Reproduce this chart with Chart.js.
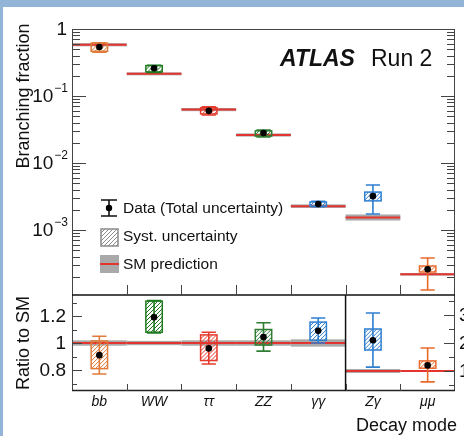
<!DOCTYPE html>
<html><head><meta charset="utf-8">
<script src="https://cdn.jsdelivr.net/npm/chart.js@4.4.1/dist/chart.umd.min.js"></script>
<style>
html,body{margin:0;padding:0;background:#92b4d6;overflow:hidden;width:464px;height:436px}
#page{position:absolute;left:3px;top:7px;width:461px;height:429px;background:#fff}
#c{position:absolute;left:0;top:0}
</style></head><body>
<div id="page"></div>
<canvas id="c" width="464" height="436"></canvas>
<script>
const modes=['bb','WW','ττ','ZZ','γγ','Zγ','μμ']
const modeColors=['#e07b39','#1f7a1f','#e53b2c','#2e7d32','#2f7fd1','#2f7fd1','#ea6a2c']

// branching fraction (upper panel)
const brData=[0.54,0.26,0.060,0.028,0.00245,0.0032,0.00026]
const brSysLo=[0.465,0.228,0.054,0.0252,0.00226,0.00272,0.000236]
const brSysHi=[0.615,0.284,0.067,0.0302,0.00262,0.00368,0.00029]
const brTotLo=[0.45,0.225,0.052,0.0245,0.00222,0.00173,0.000127]
const brTotHi=[0.625,0.288,0.069,0.031,0.00268,0.0047,0.000382]
const smBR=[0.582,0.214,0.0627,0.0262,0.00227,0.00154,0.000218]
const smUnc=[0.02,0.016,0.02,0.02,0.027,0.07,0.01]

// ratio to SM (lower panel), last two on the right-hand scale
const ratio=[0.91,1.19,0.96,1.045,1.09,2.1,1.2]
const ratioSysLo=[0.81,1.08,0.87,0.985,1.02,1.75,1.1]
const ratioSysHi=[1.015,1.31,1.06,1.10,1.155,2.5,1.36]
const ratioTotLo=[0.77,1.075,0.845,0.94,1.0,1.14,0.61]
const ratioTotHi=[1.05,1.315,1.08,1.15,1.185,3.07,1.82]

const brTickExp=[0,-1,-2,-3]
const ratioTicks=[0.8,1,1.2]
const ratio2Ticks=[1,2,3]
const brPanelMin=Math.pow(10,-266/67)

const F='"Liberation Sans", Arial, Helvetica, sans-serif'
const RED='#e3342f',GREY='#a9a9a9'

function hatchBox(ctx,x0,x1,y0,y1,col){
const w=x1-x0,h=y1-y0
ctx.save()
ctx.beginPath();ctx.rect(x0,y0,w,h);ctx.clip()
ctx.strokeStyle=col;ctx.lineWidth=1;ctx.beginPath()
for(let k=-h;k<w;k+=4){ctx.moveTo(x0+k,y1);ctx.lineTo(x0+k+h,y0)}
ctx.stroke();ctx.restore()
ctx.strokeStyle=col;ctx.lineWidth=1.5;ctx.strokeRect(x0,y0,w,h)
}
function errBar(ctx,xc,hw,yt,yb,col){
ctx.strokeStyle=col;ctx.lineWidth=1.6;ctx.beginPath()
ctx.moveTo(xc,yt);ctx.lineTo(xc,yb)
ctx.moveTo(xc-hw,yt);ctx.lineTo(xc+hw,yt)
ctx.moveTo(xc-hw,yb);ctx.lineTo(xc+hw,yb)
ctx.stroke()
}
function hline(ctx,x0,x1,py,col,lw){
ctx.strokeStyle=col;ctx.lineWidth=lw;ctx.beginPath();ctx.moveTo(x0,py);ctx.lineTo(x1,py);ctx.stroke()
}

const atlas={
id:'atlas',
beforeDatasetsDraw(chart){
const {ctx,chartArea:a,scales:{x,y,yr,yr2}}=chart
const split=y.getPixelForValue(brPanelMin)
const bw=x.getPixelForValue(1)-x.getPixelForValue(0)
// upper panel
ctx.save();ctx.beginPath();ctx.rect(a.left,a.top,a.width,split-a.top);ctx.clip()
for(let i=0;i<modes.length;i++){
const xl=x.getPixelForValue(i),xr=x.getPixelForValue(i+1),xc=x.getPixelForValue(i+0.5)
const t=y.getPixelForValue(smBR[i]*(1+smUnc[i])),b=y.getPixelForValue(smBR[i]*(1-smUnc[i]))
ctx.fillStyle=GREY;ctx.fillRect(xl,t-1,xr-xl,b-t+2)
hline(ctx,xl,xr,y.getPixelForValue(smBR[i]),RED,2)
hatchBox(ctx,xc-0.15*bw,xc+0.15*bw,y.getPixelForValue(brSysHi[i]),y.getPixelForValue(brSysLo[i]),modeColors[i])
errBar(ctx,xc,0.13*bw,y.getPixelForValue(brTotHi[i]),y.getPixelForValue(brTotLo[i]),modeColors[i])
}
ctx.restore()
// ratio panel
ctx.save();ctx.beginPath();ctx.rect(a.left,split,a.width,a.bottom-split);ctx.clip()
for(let i=0;i<modes.length;i++){
const s=i<5?yr:yr2
const xl=x.getPixelForValue(i),xr=x.getPixelForValue(i+1)
const t=s.getPixelForValue(1+smUnc[i]),b=s.getPixelForValue(1-smUnc[i])
ctx.fillStyle=GREY;ctx.fillRect(xl,t,xr-xl,b-t)
hline(ctx,xl,xr,s.getPixelForValue(1),RED,2)
}
for(let i=0;i<modes.length;i++){
const s=i<5?yr:yr2
const xc=x.getPixelForValue(i+0.5)
hatchBox(ctx,xc-0.15*bw,xc+0.15*bw,s.getPixelForValue(ratioSysHi[i]),s.getPixelForValue(ratioSysLo[i]),modeColors[i])
errBar(ctx,xc,0.13*bw,s.getPixelForValue(ratioTotHi[i]),s.getPixelForValue(ratioTotLo[i]),modeColors[i])
}
ctx.restore()
},
afterDatasetsDraw(chart){
const {ctx,chartArea:a,scales:{x,y,yr,yr2}}=chart
const split=y.getPixelForValue(brPanelMin)
const L=a.left+0.5,R=a.right-0.5
// frame
ctx.strokeStyle='#444';ctx.lineWidth=1
ctx.beginPath()
ctx.moveTo(L,a.bottom);ctx.lineTo(L,a.top+0.5);ctx.lineTo(R,a.top+0.5);ctx.lineTo(R,a.bottom)
ctx.stroke()
hline(ctx,a.left,a.right,split,'#111',1.6)
hline(ctx,a.left,a.right,a.bottom-0.5,'#222',1.4)
const xs=x.getPixelForValue(5)
ctx.strokeStyle='#111';ctx.lineWidth=1.5;ctx.beginPath();ctx.moveTo(xs,split);ctx.lineTo(xs,a.bottom);ctx.stroke()
// log ticks
ctx.strokeStyle='#444';ctx.lineWidth=1;ctx.beginPath()
for(let e=-4;e<=0;e++){
for(let k=1;k<=9;k++){
const v=k*Math.pow(10,e)
if(v>1.0001||v<brPanelMin)continue
const py=Math.round(y.getPixelForValue(v))+0.5
const len=k===1?14:8
ctx.moveTo(a.left,py);ctx.lineTo(a.left+len,py)
ctx.moveTo(a.right,py);ctx.lineTo(a.right-len,py)
}
}
// bin boundary ticks
for(let i=1;i<modes.length;i++){
const px=Math.round(x.getPixelForValue(i))+0.5
ctx.moveTo(px,split);ctx.lineTo(px,split-10)
ctx.moveTo(px,a.bottom);ctx.lineTo(px,a.bottom-7)
}
// ratio ticks
for(let v=0.7;v<1.35;v+=0.1){
const py=Math.round(yr.getPixelForValue(v))+0.5
const major=ratioTicks.some(t=>Math.abs(t-v)<1e-6)
ctx.moveTo(a.left,py);ctx.lineTo(a.left+(major?10:5),py)
}
for(let v=0.5;v<3.6;v+=0.5){
const py=Math.round(yr2.getPixelForValue(v))+0.5
const major=ratio2Ticks.includes(v)
ctx.moveTo(a.right,py);ctx.lineTo(a.right-(major?11:6),py)
}
ctx.stroke()
// tick labels
ctx.fillStyle='#111';ctx.textBaseline='middle'
for(const e of brTickExp){
const py=y.getPixelForValue(Math.pow(10,e))
ctx.textAlign='right'
if(e===0){ctx.font='19px '+F;ctx.fillText('1',67,py+1);continue}
ctx.font='12px '+F
const sup='−'+(-e)
const sw=ctx.measureText(sup).width
ctx.fillText(sup,68,py-7)
ctx.font='19px '+F
ctx.fillText('10',68-sw-1,py+1)
}
ctx.font='19px '+F;ctx.textAlign='right'
for(const v of ratioTicks)ctx.fillText(String(v),66,yr.getPixelForValue(v)+1)
ctx.textAlign='left'
for(const v of ratio2Ticks)ctx.fillText(String(v),a.right+4,yr2.getPixelForValue(v)+1)
// category labels
ctx.font='italic 14px '+F;ctx.textAlign='center'
modes.forEach((m,i)=>ctx.fillText(m,x.getPixelForValue(i+0.5),a.bottom+11))
ctx.font='18px '+F;ctx.textAlign='right';ctx.textBaseline='alphabetic'
ctx.fillText('Decay mode',457,431)
// axis titles
ctx.save();ctx.translate(24,96);ctx.rotate(-Math.PI/2)
ctx.textAlign='center';ctx.textBaseline='middle';ctx.font='18px '+F
ctx.fillText('Branching fraction',0,0);ctx.restore()
ctx.save();ctx.translate(24,343);ctx.rotate(-Math.PI/2)
ctx.textAlign='center';ctx.textBaseline='middle';ctx.font='18px '+F
ctx.fillText('Ratio to SM',0,0);ctx.restore()
// ATLAS label
ctx.textAlign='left';ctx.textBaseline='alphabetic'
ctx.font='italic bold 23px '+F;ctx.fillText('ATLAS',280,66)
ctx.font='23px '+F;ctx.fillText('Run 2',371,66)
// legend
ctx.strokeStyle='#111';ctx.lineWidth=1.6;ctx.beginPath()
ctx.moveTo(109,200);ctx.lineTo(109,216);ctx.moveTo(101,200);ctx.lineTo(117,200);ctx.moveTo(101,216);ctx.lineTo(117,216)
ctx.stroke()
ctx.fillStyle='#000';ctx.beginPath();ctx.arc(109,208,3.2,0,Math.PI*2);ctx.fill()
hatchBox(ctx,101,118,229,246,'#8a8a8a')
ctx.fillStyle=GREY;ctx.fillRect(100,255,19,18)
hline(ctx,100,119,264,RED,2)
ctx.fillStyle='#111';ctx.font='15.5px '+F;ctx.textBaseline='middle'
ctx.fillText('Data (Total uncertainty)',123,209)
ctx.fillText('Syst. uncertainty',123,237)
ctx.fillText('SM prediction',123,265)
}
}

const pt={pointRadius:3.3,pointBackgroundColor:'#000',pointBorderWidth:0,showLine:false}
new Chart(document.getElementById('c'),{
type:'scatter',
data:{datasets:[
Object.assign({data:brData.map((v,i)=>({x:i+0.5,y:v})),yAxisID:'y'},pt),
Object.assign({data:ratio.slice(0,5).map((v,i)=>({x:i+0.5,y:v})),yAxisID:'yr'},pt),
Object.assign({data:ratio.slice(5).map((v,i)=>({x:i+5.5,y:v})),yAxisID:'yr2'},pt)
]},
options:{
responsive:false,animation:false,devicePixelRatio:1,
layout:{padding:{left:72,right:9,top:29,bottom:45}},
plugins:{legend:{display:false},tooltip:{enabled:false}},
scales:{
x:{type:'linear',min:0,max:7,display:false},
y:{type:'logarithmic',min:Math.pow(10,-362/67),max:1,display:false},
yr:{type:'linear',axis:'y',min:1-48/135,max:1+314/135,display:false},
yr2:{type:'linear',axis:'y',min:1-20/28,max:1+342/28,display:false}
}
},
plugins:[atlas]
})
</script>
</body></html>
